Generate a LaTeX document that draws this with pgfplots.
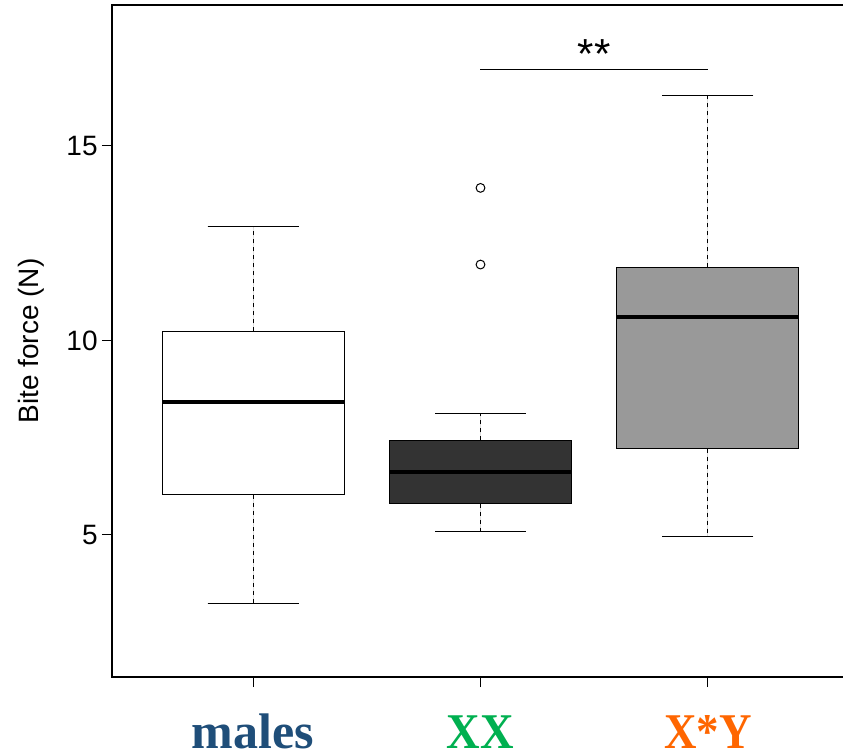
\documentclass[border=0pt]{standalone}
\usepackage{fontspec}
\setmainfont{Liberation Sans}
\newfontfamily\grpfont{Liberation Serif}
\usepackage{pgfplots}
\pgfplotsset{compat=1.18}
\usepgfplotslibrary{statistics}

\definecolor{malesblue}{HTML}{1F4E79}
\definecolor{xxgreen}{HTML}{00B050}
\definecolor{xyorange}{HTML}{FF6600}
\definecolor{boxdark}{HTML}{333333}
\definecolor{boxgray}{HTML}{999999}

% R-style box: thick median, dashed whiskers with solid half-width staples
\pgfplotsset{
  rbox/.style={
    boxplot/draw direction=y,
    boxplot/box extend=0.8,
    draw=black, line width=0.5pt,
    boxplot/draw/median/.code={%
      \draw[line width=2pt,black]
        (boxplot box cs:\pgfplotsboxplotvalue{median},0) --
        (boxplot box cs:\pgfplotsboxplotvalue{median},1);},
    boxplot/draw/lower whisker/.code={%
      \draw[black,line width=0.5pt,dash pattern=on 2pt off 2pt]
        (boxplot box cs:\pgfplotsboxplotvalue{lower quartile},0.5) --
        (boxplot box cs:\pgfplotsboxplotvalue{lower whisker},0.5);
      \draw[black,line width=0.5pt]
        (boxplot box cs:\pgfplotsboxplotvalue{lower whisker},0.25) --
        (boxplot box cs:\pgfplotsboxplotvalue{lower whisker},0.75);},
    boxplot/draw/upper whisker/.code={%
      \draw[black,line width=0.5pt,dash pattern=on 2pt off 2pt]
        (boxplot box cs:\pgfplotsboxplotvalue{upper quartile},0.5) --
        (boxplot box cs:\pgfplotsboxplotvalue{upper whisker},0.5);
      \draw[black,line width=0.5pt]
        (boxplot box cs:\pgfplotsboxplotvalue{upper whisker},0.25) --
        (boxplot box cs:\pgfplotsboxplotvalue{upper whisker},0.75);},
  }
}

\begin{document}
\begin{tikzpicture}
\begin{axis}[
  at={(56pt,-2.5pt)}, anchor=north west,
  scale only axis, width=368.5pt, height=336pt,
  xmin=0.38, xmax=3.62, ymin=1.35, ymax=18.62,
  xtick={1,2,3},
  xticklabels={{\color{malesblue}males},
               {\color{xxgreen}\scalebox{0.93}[1]{XX}},
               {\color{xyorange}\scalebox{0.9}[1]{X*Y}}},
  ytick={5,10,15},
  xtick pos=bottom, ytick pos=left,
  tick align=outside, major tick length=5pt,
  tick style={black, line width=0.5pt},
  axis line style={black, line width=0.8pt},
  /pgf/number format/assume math mode=true,
  yticklabel style={font=\fontsize{14}{16}\selectfont, inner sep=2pt},
  xticklabel style={font=\grpfont\bfseries\fontsize{25}{28}\selectfont,
                    anchor=base, yshift=-30.5pt},
  ylabel={Bite force (N)},
  ylabel style={font=\fontsize{14}{16}\selectfont,
                at={(axis description cs:-0.110,0.5)}, anchor=center},
  clip=false,
]
  % males
  \addplot[rbox, fill=white, boxplot prepared={
      draw position=1, lower whisker=3.23, lower quartile=6.03,
      median=8.41, upper quartile=10.23, upper whisker=12.93}]
    coordinates {};
  % XX
  \addplot[rbox, fill=boxdark, boxplot prepared={
      draw position=2, lower whisker=5.08, lower quartile=5.80,
      median=6.63, upper quartile=7.43, upper whisker=8.12}]
    coordinates {};
  % X*Y
  \addplot[rbox, fill=boxgray, boxplot prepared={
      draw position=3, lower whisker=4.97, lower quartile=7.22,
      median=10.59, upper quartile=11.88, upper whisker=16.29}]
    coordinates {};
  % outliers of XX
  \addplot[only marks, mark=o, mark size=2.2pt,
           mark options={draw=black, line width=0.5pt}]
    coordinates {(2,13.92) (2,11.95)};
  % significance bracket
  \addplot[black, line width=0.5pt, mark=none] coordinates {(2,16.95) (3,16.95)};
  \node[anchor=base, font=\fontsize{21}{23}\selectfont] at (axis cs:2.5,17.0) {**};
\end{axis}
\pgfresetboundingbox
\path[use as bounding box] (0,0) rectangle (421.5pt,-378pt);
\end{tikzpicture}
\end{document}
